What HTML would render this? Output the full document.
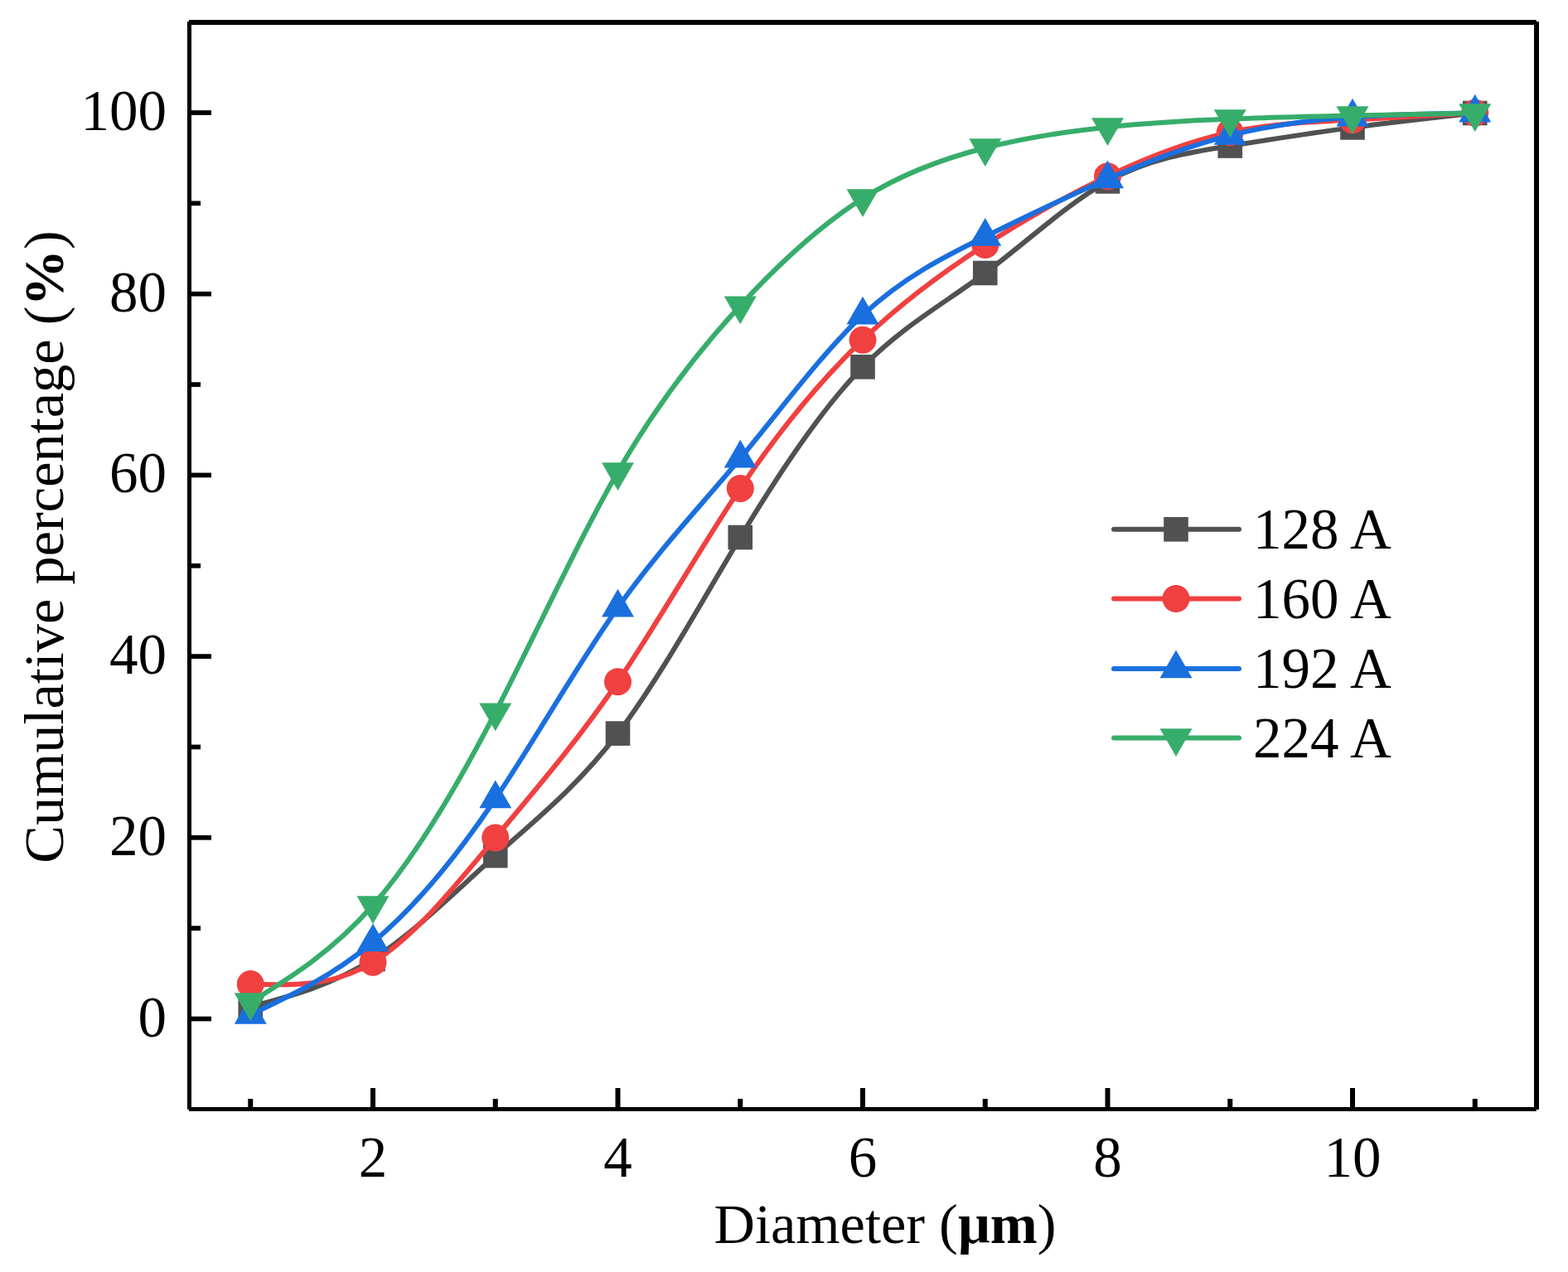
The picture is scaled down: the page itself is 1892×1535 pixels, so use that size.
<!DOCTYPE html>
<html><head><meta charset="utf-8"><title>Cumulative percentage</title>
<style>html,body{margin:0;padding:0;background:#fff;}svg{display:block;}</style>
</head><body>
<svg width="1892" height="1535" viewBox="0 0 1892 1535">
<rect width="1892" height="1535" fill="#fff"/>
<g fill="none" stroke-linejoin="round" stroke-linecap="butt">
<path d="M302.25,1215.00 C351.50,1201.89 400.75,1188.79 450.00,1157.50 C499.25,1126.21 548.50,1076.75 597.75,1032.60 C647.00,988.45 696.25,949.61 745.50,885.10 C794.75,820.59 844.00,730.42 893.25,648.50 C942.50,566.58 991.75,492.91 1041.00,442.80 C1090.25,392.69 1139.50,366.13 1188.75,329.50 C1238.00,292.87 1287.25,246.17 1336.50,218.90 C1385.75,191.63 1435.00,183.79 1484.25,176.00 C1533.50,168.21 1582.75,160.47 1632.00,153.90 C1681.25,147.33 1730.50,141.91 1779.75,136.50" stroke="#515151" stroke-width="6.0"/>
<rect x="287.45" y="1200.20" width="29.6" height="29.6" fill="#515151"/>
<rect x="435.20" y="1142.70" width="29.6" height="29.6" fill="#515151"/>
<rect x="582.95" y="1017.80" width="29.6" height="29.6" fill="#515151"/>
<rect x="730.70" y="870.30" width="29.6" height="29.6" fill="#515151"/>
<rect x="878.45" y="633.70" width="29.6" height="29.6" fill="#515151"/>
<rect x="1026.20" y="428.00" width="29.6" height="29.6" fill="#515151"/>
<rect x="1173.95" y="314.70" width="29.6" height="29.6" fill="#515151"/>
<rect x="1321.70" y="204.10" width="29.6" height="29.6" fill="#515151"/>
<rect x="1469.45" y="161.20" width="29.6" height="29.6" fill="#515151"/>
<rect x="1617.20" y="139.10" width="29.6" height="29.6" fill="#515151"/>
<rect x="1764.95" y="121.70" width="29.6" height="29.6" fill="#515151"/>
<path d="M302.25,1187.60 C351.50,1189.30 400.75,1191.00 450.00,1161.20 C499.25,1131.40 548.50,1070.10 597.75,1011.00 C647.00,951.90 696.25,895.02 745.50,822.70 C794.75,750.38 844.00,662.64 893.25,589.40 C942.50,516.16 991.75,457.41 1041.00,410.20 C1090.25,362.99 1139.50,327.32 1188.75,295.60 C1238.00,263.88 1287.25,236.11 1336.50,212.70 C1385.75,189.29 1435.00,170.23 1484.25,159.70 C1533.50,149.17 1582.75,147.18 1632.00,144.70 C1681.25,142.22 1730.50,139.26 1779.75,136.30" stroke="#F14040" stroke-width="6.0"/>
<circle cx="302.25" cy="1187.60" r="16.5" fill="#F14040"/>
<circle cx="450.00" cy="1161.20" r="16.5" fill="#F14040"/>
<circle cx="597.75" cy="1011.00" r="16.5" fill="#F14040"/>
<circle cx="745.50" cy="822.70" r="16.5" fill="#F14040"/>
<circle cx="893.25" cy="589.40" r="16.5" fill="#F14040"/>
<circle cx="1041.00" cy="410.20" r="16.5" fill="#F14040"/>
<circle cx="1188.75" cy="295.60" r="16.5" fill="#F14040"/>
<circle cx="1336.50" cy="212.70" r="16.5" fill="#F14040"/>
<circle cx="1484.25" cy="159.70" r="16.5" fill="#F14040"/>
<circle cx="1632.00" cy="144.70" r="16.5" fill="#F14040"/>
<circle cx="1779.75" cy="136.30" r="16.5" fill="#F14040"/>
<path d="M302.25,1224.50 C351.50,1201.29 400.75,1178.09 450.00,1137.10 C499.25,1096.11 548.50,1037.35 597.75,964.00 C647.00,890.65 696.25,802.73 745.50,733.20 C794.75,663.67 844.00,612.54 893.25,553.20 C942.50,493.86 991.75,426.33 1041.00,380.30 C1090.25,334.27 1139.50,309.76 1188.75,285.50 C1238.00,261.24 1287.25,237.25 1336.50,215.90 C1385.75,194.55 1435.00,175.84 1484.25,163.40 C1533.50,150.96 1582.75,144.77 1632.00,141.30 C1681.25,137.83 1730.50,137.06 1779.75,136.30" stroke="#1A6FDF" stroke-width="6.0"/>
<polygon points="302.25,1201.98 282.75,1235.76 321.75,1235.76" fill="#1A6FDF"/>
<polygon points="450.00,1114.58 430.50,1148.36 469.50,1148.36" fill="#1A6FDF"/>
<polygon points="597.75,941.48 578.25,975.26 617.25,975.26" fill="#1A6FDF"/>
<polygon points="745.50,710.68 726.00,744.46 765.00,744.46" fill="#1A6FDF"/>
<polygon points="893.25,530.68 873.75,564.46 912.75,564.46" fill="#1A6FDF"/>
<polygon points="1041.00,357.78 1021.50,391.56 1060.50,391.56" fill="#1A6FDF"/>
<polygon points="1188.75,262.98 1169.25,296.76 1208.25,296.76" fill="#1A6FDF"/>
<polygon points="1336.50,193.38 1317.00,227.16 1356.00,227.16" fill="#1A6FDF"/>
<polygon points="1484.25,140.88 1464.75,174.66 1503.75,174.66" fill="#1A6FDF"/>
<polygon points="1632.00,118.78 1612.50,152.56 1651.50,152.56" fill="#1A6FDF"/>
<polygon points="1779.75,113.78 1760.25,147.56 1799.25,147.56" fill="#1A6FDF"/>
<path d="M302.25,1209.50 C351.50,1179.05 400.75,1148.59 450.00,1092.60 C499.25,1036.61 548.50,955.08 597.75,859.70 C647.00,764.32 696.25,655.07 745.50,569.50 C794.75,483.93 844.00,422.03 893.25,368.70 C942.50,315.37 991.75,270.61 1041.00,239.50 C1090.25,208.39 1139.50,190.94 1188.75,178.50 C1238.00,166.06 1287.25,158.63 1336.50,153.50 C1385.75,148.37 1435.00,145.54 1484.25,143.60 C1533.50,141.66 1582.75,140.62 1632.00,139.60 C1681.25,138.58 1730.50,137.59 1779.75,136.60" stroke="#37AD6B" stroke-width="6.0"/>
<polygon points="282.75,1198.24 321.75,1198.24 302.25,1232.02" fill="#37AD6B"/>
<polygon points="430.50,1081.34 469.50,1081.34 450.00,1115.12" fill="#37AD6B"/>
<polygon points="578.25,848.44 617.25,848.44 597.75,882.22" fill="#37AD6B"/>
<polygon points="726.00,558.24 765.00,558.24 745.50,592.02" fill="#37AD6B"/>
<polygon points="873.75,357.44 912.75,357.44 893.25,391.22" fill="#37AD6B"/>
<polygon points="1021.50,228.24 1060.50,228.24 1041.00,262.02" fill="#37AD6B"/>
<polygon points="1169.25,167.24 1208.25,167.24 1188.75,201.02" fill="#37AD6B"/>
<polygon points="1317.00,142.24 1356.00,142.24 1336.50,176.02" fill="#37AD6B"/>
<polygon points="1464.75,132.34 1503.75,132.34 1484.25,166.12" fill="#37AD6B"/>
<polygon points="1612.50,128.34 1651.50,128.34 1632.00,162.12" fill="#37AD6B"/>
<polygon points="1760.25,125.34 1799.25,125.34 1779.75,159.12" fill="#37AD6B"/>
</g>
<g fill="#000">
<rect x="228" y="24" width="1625.8" height="6"/>
<rect x="228" y="1336" width="1625.8" height="5"/>
<rect x="226" y="26" width="5" height="1312.8"/>
<rect x="1851" y="26" width="6" height="1313"/>
<rect x="230" y="1226.65" width="25" height="5.7"/>
<rect x="230" y="1117.30" width="12" height="5.7"/>
<rect x="230" y="1007.95" width="25" height="5.7"/>
<rect x="230" y="898.60" width="12" height="5.7"/>
<rect x="230" y="789.25" width="25" height="5.7"/>
<rect x="230" y="679.90" width="12" height="5.7"/>
<rect x="230" y="570.55" width="25" height="5.7"/>
<rect x="230" y="461.20" width="12" height="5.7"/>
<rect x="230" y="351.85" width="25" height="5.7"/>
<rect x="230" y="242.50" width="12" height="5.7"/>
<rect x="230" y="133.15" width="25" height="5.7"/>
<rect x="299.25" y="1326" width="6" height="11"/>
<rect x="447.00" y="1313" width="6" height="24"/>
<rect x="594.75" y="1326" width="6" height="11"/>
<rect x="742.50" y="1313" width="6" height="24"/>
<rect x="890.25" y="1326" width="6" height="11"/>
<rect x="1038.00" y="1313" width="6" height="24"/>
<rect x="1185.75" y="1326" width="6" height="11"/>
<rect x="1333.50" y="1313" width="6" height="24"/>
<rect x="1481.25" y="1326" width="6" height="11"/>
<rect x="1629.00" y="1313" width="6" height="24"/>
<rect x="1776.75" y="1326" width="6" height="11"/>
</g>
<text x="201" y="1250.50" font-family="'Liberation Serif', 'Times New Roman', serif" font-size="69" text-anchor="end">0</text>
<text x="201" y="1031.80" font-family="'Liberation Serif', 'Times New Roman', serif" font-size="69" text-anchor="end">20</text>
<text x="201" y="813.10" font-family="'Liberation Serif', 'Times New Roman', serif" font-size="69" text-anchor="end">40</text>
<text x="201" y="594.40" font-family="'Liberation Serif', 'Times New Roman', serif" font-size="69" text-anchor="end">60</text>
<text x="201" y="375.70" font-family="'Liberation Serif', 'Times New Roman', serif" font-size="69" text-anchor="end">80</text>
<text x="201" y="157.00" font-family="'Liberation Serif', 'Times New Roman', serif" font-size="69" text-anchor="end">100</text>
<text x="450.00" y="1420" font-family="'Liberation Serif', 'Times New Roman', serif" font-size="69" text-anchor="middle">2</text>
<text x="745.50" y="1420" font-family="'Liberation Serif', 'Times New Roman', serif" font-size="69" text-anchor="middle">4</text>
<text x="1041.00" y="1420" font-family="'Liberation Serif', 'Times New Roman', serif" font-size="69" text-anchor="middle">6</text>
<text x="1336.50" y="1420" font-family="'Liberation Serif', 'Times New Roman', serif" font-size="69" text-anchor="middle">8</text>
<text x="1632.00" y="1420" font-family="'Liberation Serif', 'Times New Roman', serif" font-size="69" text-anchor="middle">10</text>
<text x="1068" y="1500" font-family="'Liberation Serif', 'Times New Roman', serif" font-size="68.4" text-anchor="middle">Diameter (<tspan font-weight="bold">μm</tspan>)</text>
<text transform="translate(76,660) rotate(-90)" font-family="'Liberation Serif', 'Times New Roman', serif" font-size="68.4" text-anchor="middle">Cumulative percentage (<tspan font-weight="bold">%</tspan>)</text>
<line x1="1344" y1="638.8" x2="1495" y2="638.8" stroke="#515151" stroke-width="6.0" stroke-linecap="round"/>
<rect x="1404.20" y="624.00" width="29.6" height="29.6" fill="#515151"/>
<text x="1512" y="661.8" font-family="'Liberation Serif', 'Times New Roman', serif" font-size="69">128 A</text>
<line x1="1344" y1="722.5" x2="1495" y2="722.5" stroke="#F14040" stroke-width="6.0" stroke-linecap="round"/>
<circle cx="1419.00" cy="722.50" r="16.5" fill="#F14040"/>
<text x="1512" y="745.5" font-family="'Liberation Serif', 'Times New Roman', serif" font-size="69">160 A</text>
<line x1="1344" y1="807.0" x2="1495" y2="807.0" stroke="#1A6FDF" stroke-width="6.0" stroke-linecap="round"/>
<polygon points="1419.00,784.48 1399.50,818.26 1438.50,818.26" fill="#1A6FDF"/>
<text x="1512" y="830.0" font-family="'Liberation Serif', 'Times New Roman', serif" font-size="69">192 A</text>
<line x1="1344" y1="890.5" x2="1495" y2="890.5" stroke="#37AD6B" stroke-width="6.0" stroke-linecap="round"/>
<polygon points="1399.50,879.24 1438.50,879.24 1419.00,913.02" fill="#37AD6B"/>
<text x="1512" y="913.5" font-family="'Liberation Serif', 'Times New Roman', serif" font-size="69">224 A</text>
</svg>
</body></html>
